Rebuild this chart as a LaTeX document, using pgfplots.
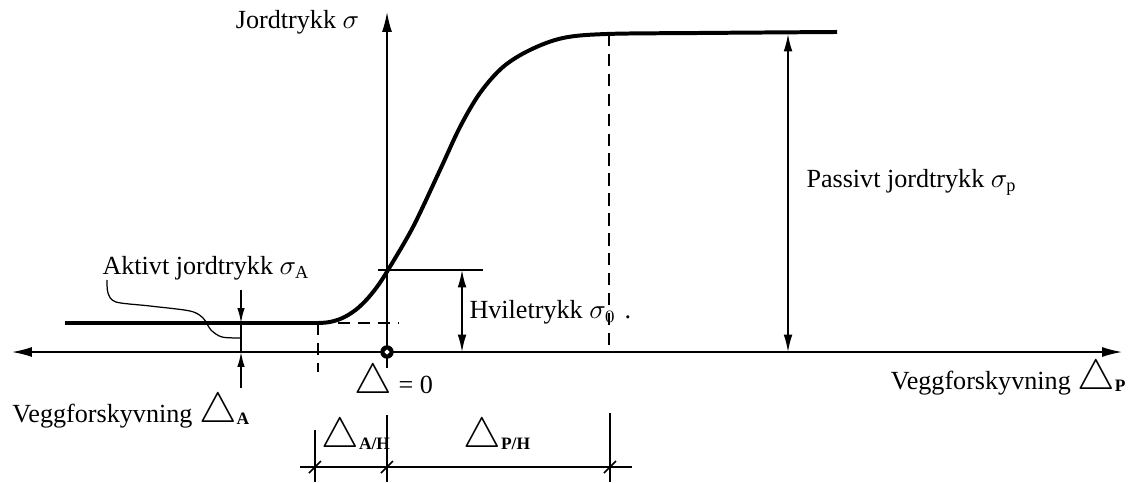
\documentclass[border=0pt]{standalone}
\usepackage{pgfplots}
\pgfplotsset{compat=1.18}
\usepackage{graphicx}
\usepackage{fontspec}
\setmainfont{Liberation Serif}
\usetikzlibrary{arrows.meta}
\newcommand\Tri[1]{\scalebox{1.55}{$\bigtriangleup$}\raisebox{-0.15ex}{\scriptsize\bfseries #1}}
\begin{document}
\begin{tikzpicture}[font=\fontsize{10.5pt}{12pt}\selectfont]
\begin{axis}[scale only axis, width=16cm, height=6.807cm,
  xmin=0, xmax=1133, ymin=-482, ymax=0, hide axis, clip=false,
  cycle list={{black,solid,mark=none}},
  every axis plot/.append style={black, line width=0.6pt}]
% main axes
\addplot[black, {Latex[length=8pt,width=4pt]}-{Latex[length=8pt,width=4pt]}] coordinates {(12,-352) (1122,-352)};
\addplot[black, -{Latex[length=8pt,width=4pt]}] coordinates {(387,-368) (387,-12)};
% curve
\addplot[black, line width=1.6pt] coordinates {(65,-323) (318,-323)};
\addplot[black, line width=1.6pt, smooth, tension=0.55] coordinates {
 (318,-323) (328,-322.3) (338,-319.8) (348,-315.1) (358,-308) (368,-298.1) (378,-285.5) (388,-270)
 (413,-227) (440,-170) (460,-127) (480,-93) (503,-67) (530,-50) (563,-38) (607,-34) (700,-33) (837,-32)};
% origin dot
\addplot[black, only marks, mark=*, mark size=2.4pt] coordinates {(387,-352)};
\addplot[white, only marks, mark=*, mark size=0.6pt, mark options={fill=white, draw=white}] coordinates {(387,-352)};
% dashed helpers
\addplot[black, dash pattern=on 5pt off 3pt] coordinates {(318,-323) (318,-372)};
\addplot[black, dash pattern=on 5pt off 3pt] coordinates {(318,-323) (398,-323)};
\addplot[black, dash pattern=on 5pt off 3pt] coordinates {(609,-34) (609,-352)};
% hviletrykk
\addplot[black] coordinates {(378,-270) (483,-270)};
\addplot[black, {Latex[length=7pt,width=3.5pt]}-{Latex[length=7pt,width=3.5pt]}] coordinates {(462,-270) (462,-352)};
% passivt
\addplot[black, {Latex[length=7pt,width=3.5pt]}-{Latex[length=7pt,width=3.5pt]}] coordinates {(788,-34) (788,-352)};
% aktivt arrows
\addplot[black, -{Latex[length=6pt,width=3pt]}] coordinates {(241,-290) (241,-323)};
\addplot[black, -{Latex[length=6pt,width=3pt]}] coordinates {(241,-388) (241,-352)};
\addplot[black] coordinates {(241,-323) (241,-352)};
% leader
\addplot[black, line width=0.5pt, smooth] coordinates {(107,-280) (108,-293) (116,-302) (150,-306) (190,-311) (203,-318) (211,-330) (222,-337) (241,-338)};
% dimension line
\addplot[black] coordinates {(300,-467) (632,-467)};
\addplot[black] coordinates {(315,-430) (315,-482)};
\addplot[black] coordinates {(387,-415) (387,-482)};
\addplot[black] coordinates {(610,-413) (610,-482)};
\addplot[black] coordinates {(309,-473) (321,-461)};
\addplot[black] coordinates {(381,-473) (393,-461)};
\addplot[black] coordinates {(604,-473) (616,-461)};
% texts
\node[anchor=east] at (axis cs:368,-22) {Jordtrykk $\sigma$};
\node[anchor=west, inner sep=0pt] at (axis cs:102,-268) {Aktivt jordtrykk $\sigma_{\mathrm{A}}$};
\node[anchor=west, inner sep=0pt] at (axis cs:469,-312) {Hviletrykk $\sigma_0$\,\,.};
\node[anchor=west, inner sep=0pt] at (axis cs:806,-182) {Passivt jordtrykk $\sigma_{\mathrm{p}}$};
\node[anchor=west, inner sep=0pt] at (axis cs:354,-383) {\scalebox{1.55}{$\bigtriangleup$} = 0};
\node[anchor=west, inner sep=0pt] at (axis cs:12,-412) {Veggforskyvning \Tri{A}};
\node[anchor=east, inner sep=0pt] at (axis cs:1126,-379) {Veggforskyvning \Tri{P}};
\node[anchor=west, inner sep=0pt] at (axis cs:321,-437) {\Tri{A/H}};
\node[anchor=west, inner sep=0pt] at (axis cs:463,-437) {\Tri{P/H}};
\end{axis}
\path (current axis.south west) rectangle (current axis.north east);
\end{tikzpicture}
\end{document}
